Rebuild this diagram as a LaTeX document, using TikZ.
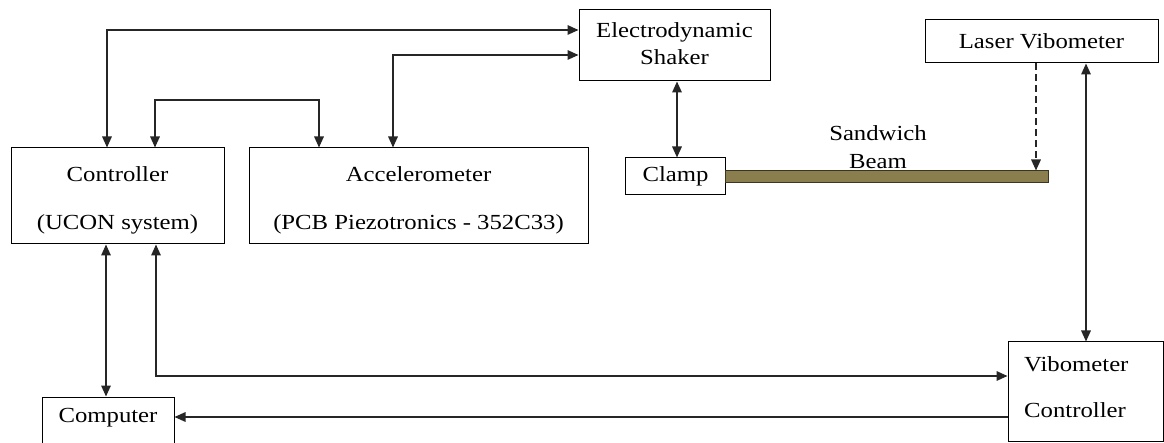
\documentclass[tikz,border=0pt]{standalone}
\usepackage{fontspec}
\setmainfont{Liberation Serif}[FakeStretch=1.15]
\usetikzlibrary{arrows.meta}
\definecolor{beamfill}{HTML}{8A7D4E}
\definecolor{beamline}{HTML}{3A3520}
\begin{document}
\begin{tikzpicture}[x=1pt,y=-1pt,
  box/.style={draw=black,line width=1pt,rectangle,inner sep=0pt,align=center},
  lbl/.style={inner sep=0pt,align=center},
  conn/.style={line width=1.6pt,draw=black!85},
  >={Triangle[length=11pt,width=9.5pt]},
  font=\fontsize{21.5}{25}\selectfont]
\clip (0,0) rectangle (1164,443);
\fill[white] (0,0) rectangle (1164,443);
% boxes
\node[box,minimum width=213pt,minimum height=92pt,font=\fontsize{21.5}{48}\selectfont] (ctrl) at (117.5,196) {\strut Controller\\\strut(UCON system)};
\node[box,minimum width=339pt,minimum height=92pt,font=\fontsize{21.5}{48}\selectfont] (acc) at (418.5,196) {\strut Accelerometer\\\strut(PCB Piezotronics - 352C33)};
\node[box,minimum width=191pt,minimum height=71pt,font=\fontsize{21.5}{27}\selectfont] (shaker) at (674.5,45.5) {\strut Electrodynamic\\\strut Shaker};
\node[box,minimum width=233pt,minimum height=43pt] (laser) at (1041.5,41.5) {Laser Vibometer};
\node[box,minimum width=100pt,minimum height=37pt] (clamp) at (675.5,176.5) {Clamp};
\node[draw=beamline,fill=beamfill,line width=1pt,rectangle,inner sep=0pt,minimum width=323pt,minimum height=12pt] (beam) at (886.5,177) {};
\node[lbl,font=\fontsize{21.5}{28}\selectfont] (beamlbl) at (878,149) {\strut Sandwich\\\strut Beam};
\node[box,minimum width=155pt,minimum height=99pt] (vc) at (1085.5,391.5) {};
\node[lbl,anchor=west,align=left,font=\fontsize{21.5}{46}\selectfont] (vclbl) at (1024,385) {\strut Vibometer\\\strut Controller};
\node[box,minimum width=132pt,minimum height=63pt] (comp) at (108,428.5) {};
\node[lbl] (complbl) at (108,418) {Computer};
% connectors
\coordinate (b1) at (107,30);
\draw[conn,<->] (b1 |- ctrl.north) -- (b1) -- (b1 -| shaker.west);
\coordinate (b2) at (393,55);
\draw[conn,<->] (b2 |- acc.north) -- (b2) -- (b2 -| shaker.west);
\coordinate (b3a) at (155,100);
\coordinate (b3b) at (319,100);
\draw[conn,<->] (b3a |- ctrl.north) -- (b3a) -- (b3b) -- (b3b |- acc.north);
\coordinate (b4) at (677,0);
\draw[conn,<->] (b4 |- shaker.south) -- (b4 |- clamp.north);
\coordinate (b5) at (1036,0);
\draw[conn,->,dash pattern=on 7pt off 4pt] (b5 |- laser.south) -- (b5 |- beam.north);
\coordinate (b6) at (1086,0);
\draw[conn,<->] (b6 |- laser.south) -- (b6 |- vc.north);
\coordinate (b7) at (106,0);
\draw[conn,<->] (b7 |- ctrl.south) -- (b7 |- comp.north);
\coordinate (b8) at (156,376);
\draw[conn,<->] (b8 |- ctrl.south) -- (b8) -- (b8 -| vc.west);
\coordinate (b9) at (0,417);
\draw[conn,->] (b9 -| vc.west) -- (b9 -| comp.east);
\end{tikzpicture}
\end{document}
